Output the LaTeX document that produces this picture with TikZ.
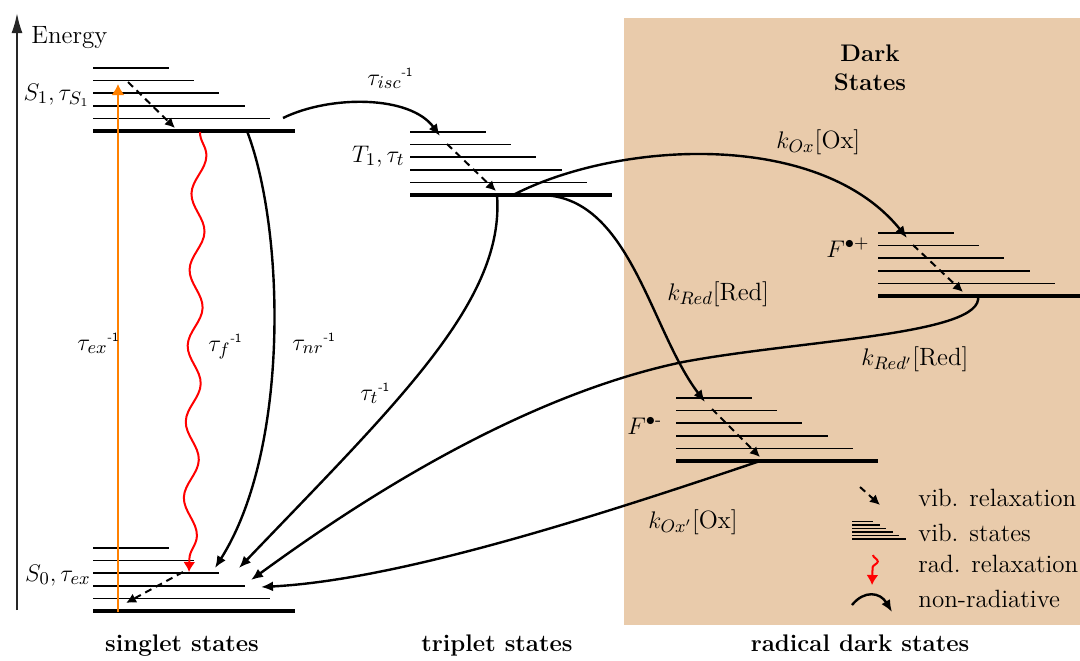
\documentclass[tikz,border=0pt]{standalone}
\usepackage{amsmath}
\usetikzlibrary{arrows.meta,decorations.pathmorphing}
\definecolor{darkbg}{RGB}{233,203,171}
\definecolor{exorange}{RGB}{255,128,0}
\newcommand{\inv}{{}^{\scriptscriptstyle\text{\sffamily -1}}}
\tikzset{
  groundlevel/.style={line width=2pt},
  viblevel/.style={line width=0.75pt},
  vibflow/.style={-{Latex[length=5pt,width=5pt]}, line width=1pt, dash pattern=on 3.5pt off 2.5pt},
  nrflow/.style={-{Latex[length=6pt,width=5pt]}, line width=1.2pt},
  radflow/.style={-{Latex[length=5pt,width=6pt]}, red, line width=1pt, decorate},
  exflow/.style={-{Latex[length=5.5pt,width=6.5pt]}, exorange, line width=1pt},
  ratelabel/.style={anchor=base west, inner sep=0pt},
  statelabel/.style={anchor=base east, inner sep=0pt},
  grouplabel/.style={anchor=base, inner sep=0pt, font=\fontsize{12}{14.5}\selectfont\bfseries}
}

\begin{document}
\begin{tikzpicture}[x=0.5pt, y=-0.5pt, font=\fontsize{12.5}{14}\selectfont]
\useasboundingbox (0,0) rectangle (1080,660);

% dark states region
\fill[darkbg] (624,18) rectangle (1080,625);

% energy axis
\coordinate (ebot) at (17,610);
\coordinate (etop) at (17,13);
\draw[-{Latex[length=10pt,width=5.5pt]}, line width=1pt, black!85] (ebot) -- (etop);
\node[anchor=base west, inner sep=0pt] (energy) at (31,43) {Energy};

% vibrational ladders: S1, S0, T1, F+, F-
\foreach \x/\y in {93/131, 93/611, 410/195, 878/296, 676/461} {
  \draw[groundlevel] (\x,\y) -- ++(202,0);
  \foreach \i in {1,...,5}
    \draw[viblevel] (\x,{\y-12.6*\i}) -- ++({202-25.2*\i},0);
}

% state labels
\node[statelabel] (s1) at (90,100) {$S_1, \tau_{S_1}$};
\node[statelabel] (s0) at (91,581) {$S_0, \tau_{ex}$};
\node[statelabel] (t1) at (405,162) {$T_1, \tau_t$};
\node[anchor=base west, inner sep=0pt] (fplus) at (826,257) {$F^{\bullet +}$};
\node[anchor=base west, inner sep=0pt] (fminus) at (627,434) {$F^{\bullet\text{-}}$};
\node[grouplabel, align=center, anchor=north] (dark) at (870,44) {Dark\\States};

% connector end points
\coordinate (s0ex) at (118,612);
\coordinate (s1ex) at (118,84);
\coordinate (s1rad) at (200,132);
\coordinate (s0rad) at (189,572);
\coordinate (s1nr) at (247,131);
\coordinate (s0nr) at (215,568);
\coordinate (s1isc) at (283,118);
\coordinate (t1isc) at (440,136);
\coordinate (t1t) at (497,195);
\coordinate (s0t) at (239,568);
\coordinate (t1ox) at (513,195);
\coordinate (fpox) at (907,238);
\coordinate (t1red) at (540,195);
\coordinate (fmred) at (705,402);
\coordinate (fpred) at (978,296);
\coordinate (s0red) at (251,580);
\coordinate (fmox) at (760,461);
\coordinate (s0ox) at (261,587);

% excitation and radiative relaxation
\draw[exflow] (s0ex) -- (s1ex);
\draw[radflow, decoration={snake, segment length=38pt, amplitude=3.5pt, post length=6pt}] (s1rad) -- (s0rad);

% vibrational relaxation
\draw[vibflow] (128,82) -- (175,128);
\draw[vibflow] (183,572) -- (126,603);
\draw[vibflow] (447,144) -- (496,191);
\draw[vibflow] (913,245) -- (963,292);
\draw[vibflow] (712,409) -- (760,457);

% non-radiative transitions
\draw[nrflow] (s1nr) .. controls (285,230) and (290,450) .. (s0nr);
\draw[nrflow] (s1isc) .. controls (330,95) and (410,95) .. (t1isc);
\draw[nrflow] (t1t) .. controls (505,300) and (400,400) .. (s0t);
\draw[nrflow] (t1ox) .. controls (620,140) and (820,130) .. (fpox);
\draw[nrflow] (t1red) .. controls (630,195) and (650,330) .. (fmred);
\draw[nrflow] (fpred) .. controls (985,335) and (800,340) .. (683,362)
  .. controls (500,400) and (320,530) .. (s0red);
\draw[nrflow] (fmox) .. controls (600,515) and (400,580) .. (s0ox);

% rates
\node[ratelabel] (rex) at (77,350) {$\tau_{ex}\inv$};
\node[ratelabel] (rf) at (208,351) {$\tau_{f}\inv$};
\node[ratelabel] (rnr) at (292,350) {$\tau_{nr}\inv$};
\node[ratelabel] (risc) at (367,85) {$\tau_{isc}\inv$};
\node[ratelabel] (rt) at (360,400) {$\tau_{t}\inv$};
\node[ratelabel] (rox) at (776,148) {$k_{Ox}$[Ox]};
\node[ratelabel] (rred) at (667,300) {$k_{Red}$[Red]};
\node[ratelabel] (rredp) at (861,365) {$k_{Red'}$[Red]};
\node[ratelabel] (roxp) at (648,528) {$k_{Ox'}$[Ox]};

% legend
\draw[vibflow] (860,487) -- (880,505);
\node[ratelabel] (lvib) at (918,506) {vib. relaxation};
\draw[line width=1.4pt] (852,539) -- (906,539);
\foreach \i in {1,...,5}
  \draw[line width=0.7pt] (852,{539-3.5*\i}) -- ++({54-6.6*\i},0);
\node[ratelabel] (lstates) at (918,541) {vib. states};
\coordinate (lradtop) at (873,555);
\coordinate (lradbot) at (872,585);
\draw[radflow, decoration={snake, segment length=10pt, amplitude=2.5pt, post length=4pt}] (lradtop) -- (lradbot);
\node[ratelabel] (lrad) at (918,572) {rad. relaxation};
\coordinate (lnrl) at (852,605);
\coordinate (lnrr) at (892,612);
\draw[nrflow] (lnrl) .. controls (864,590) and (880,592) .. (lnrr);
\node[ratelabel] (lnr) at (918,607) {non-radiative};

% group labels
\node[grouplabel] (singlet) at (182,651) {singlet states};
\node[grouplabel] (triplet) at (497,651) {triplet states};
\node[grouplabel] (radical) at (860,651) {radical dark states};
\end{tikzpicture}
\end{document}
